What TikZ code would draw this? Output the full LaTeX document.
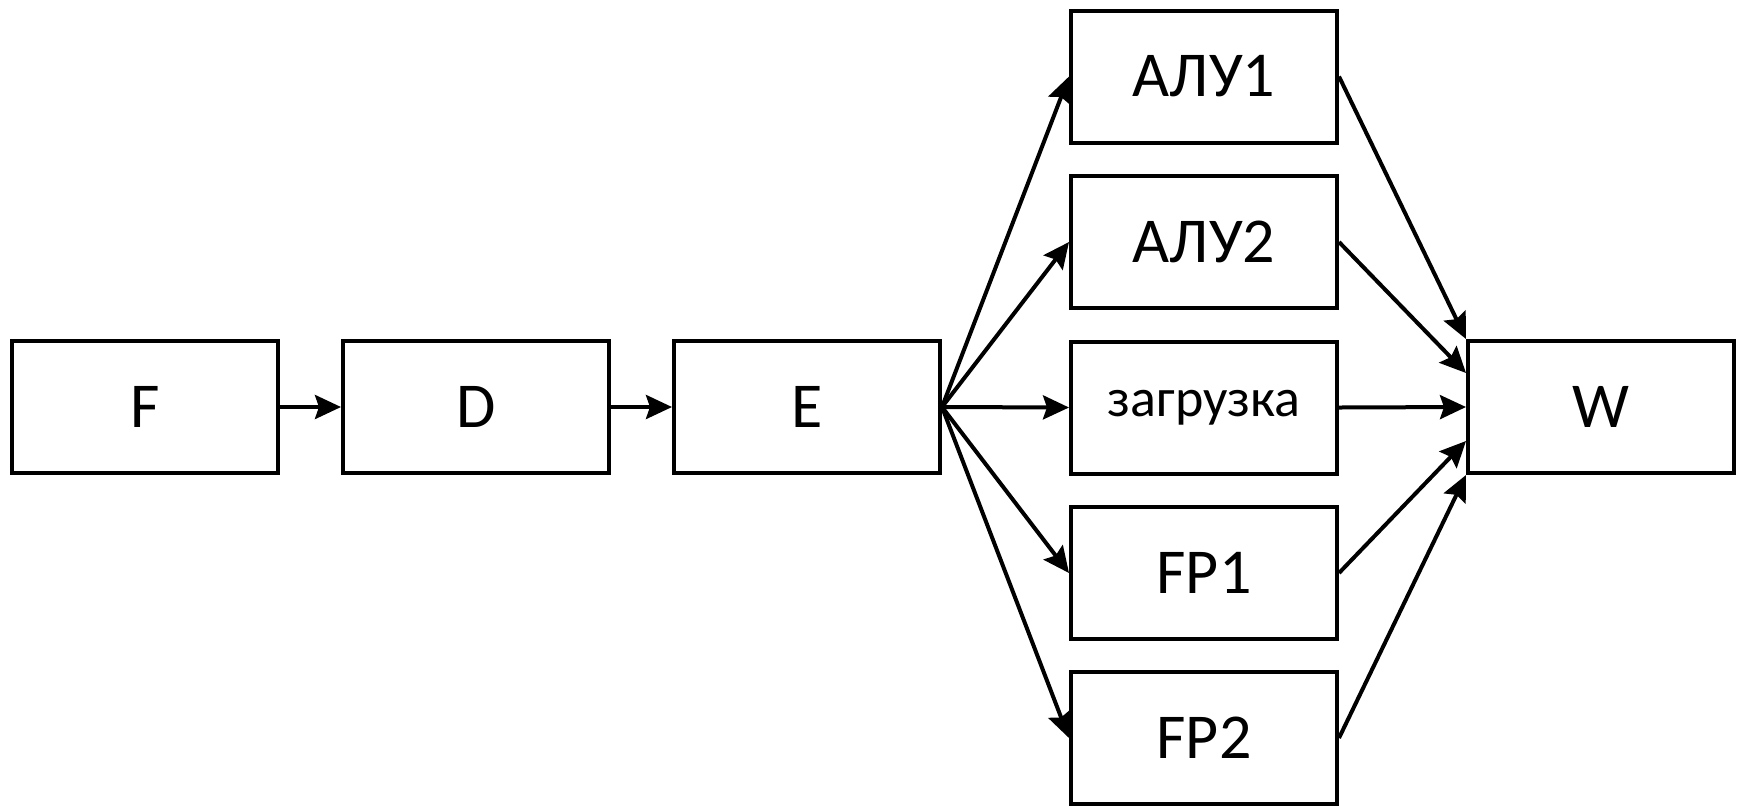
\documentclass[tikz,border=0pt]{standalone}
\usepackage{fontspec}
\setmainfont{Carlito}
\usepackage{tikz}
\usetikzlibrary{arrows.meta,calc}

\tikzset{
  stage/.style={draw, line width=2pt, minimum width=133pt, minimum height=66pt,
    inner sep=0pt, font=\fontsize{32}{38}\selectfont},
  flow/.style={line width=2pt, -{Stealth[length=13pt,width=12pt,inset=2pt]}}
}

\begin{document}
\begin{tikzpicture}[x=0.5pt, y=-0.5pt]
        \useasboundingbox (0, 0) rectangle (1741, 805);
        \node[stage] (F) at (145, 407) {F};
        \node[stage] (D) at (476, 407) {D};
        \node[stage] (E) at (807, 407) {E};
        \node[stage] (alu1) at (1204, 76.5) {АЛУ1};
        \node[stage] (alu2) at (1204, 242) {АЛУ2};
        \node[stage, font=\fontsize{27}{32}\selectfont] (load) at (1204, 407.5) {загрузка};
        \node[stage] (fp1) at (1204, 573) {FP1};
        \node[stage] (fp2) at (1204, 738) {FP2};
        \node[stage] (W) at (1601, 407) {W};
        \draw[flow] (F) -- (D);
        \draw[flow] (D) -- (E);
        \draw[flow] (E.east) -- (alu1.west);
        \draw[flow] (E.east) -- (alu2.west);
        \draw[flow] (E.east) -- (load.west);
        \draw[flow] (E.east) -- (fp1.west);
        \draw[flow] (E.east) -- (fp2.west);
        \draw[flow] (alu1.east) -- (W.north west);
        \draw[flow] (alu2.east) -- ($(W.west)!0.5!(W.north west)$);
        \draw[flow] (load.east) -- (W.west);
        \draw[flow] (fp1.east) -- ($(W.west)!0.5!(W.south west)$);
        \draw[flow] (fp2.east) -- (W.south west);
      \end{tikzpicture}
\end{document}
